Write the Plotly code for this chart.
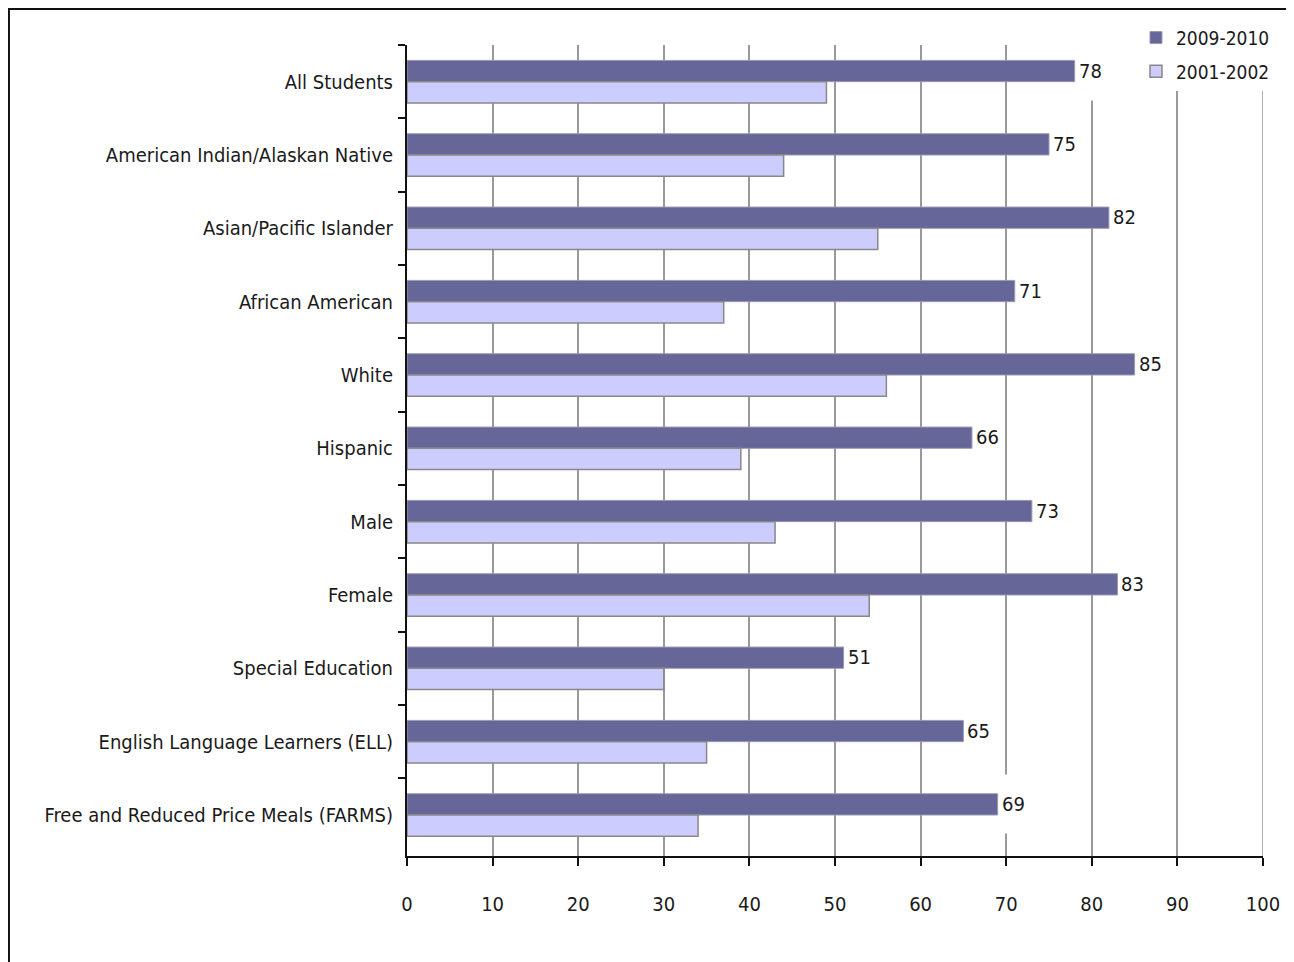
import plotly.graph_objects as go

categories = [
    "All Students",
    "American Indian/Alaskan Native",
    "Asian/Pacific Islander",
    "African American",
    "White",
    "Hispanic",
    "Male",
    "Female",
    "Special Education",
    "English Language Learners (ELL)",
    "Free and Reduced Price Meals (FARMS)",
]
values_2009_2010 = [78, 75, 82, 71, 85, 66, 73, 83, 51, 65, 69]
values_2001_2002 = [49, 44, 55, 37, 56, 39, 43, 54, 30, 35, 34]
series_names = ["2009-2010", "2001-2002"]
x_ticks = [0, 10, 20, 30, 40, 50, 60, 70, 80, 90, 100]

FONT = "Liberation Sans Narrow, DejaVu Sans Condensed, Arial Narrow, sans-serif"
DARK = "#666699"
LIGHT = "#CCCCFF"

fig = go.Figure()
fig.add_trace(go.Bar(
    y=categories, x=values_2009_2010, name=series_names[0], orientation="h",
    marker=dict(color=DARK, line=dict(color="#9a9ab4", width=1)),
    legendgroup="a",
))
fig.add_trace(go.Bar(
    y=categories, x=values_2001_2002, name=series_names[1], orientation="h",
    marker=dict(color=LIGHT, line=dict(color="#888888", width=1.5)),
    legendgroup="b",
))

for c, v in zip(categories, values_2009_2010):
    fig.add_annotation(
        x=v, y=c, xref="x", yref="y", text=str(v), showarrow=False,
        xanchor="left", yanchor="middle", xshift=3, yshift=11,
        width=26, height=58, align="left", valign="middle",
        bgcolor="white", borderpad=0,
        font=dict(family=FONT, size=20, color="#1a1a1a"),
    )

# gridline at the right edge of the value axis
fig.add_shape(type="line", xref="x", yref="paper",
              x0=x_ticks[-1], x1=x_ticks[-1], y0=0, y1=1,
              line=dict(color="#999999", width=1.5), layer="below")

# outer frame
fig.add_shape(type="rect", xref="paper", yref="paper",
              x0=-0.465, x1=1.06, y0=-0.2, y1=1.0444,
              line=dict(color="#111111", width=2), fillcolor="rgba(0,0,0,0)",
              layer="below")

fig.update_layout(
    width=1294, height=962,
    margin=dict(l=399, r=39, t=37, b=114, pad=0, autoexpand=False),
    paper_bgcolor="white", plot_bgcolor="white",
    barmode="group", bargap=0.42, bargroupgap=0,
    font=dict(family=FONT, size=20, color="#1a1a1a"),
    showlegend=True,
    legend=dict(
        x=1.014, y=1.0324, xanchor="right", yanchor="top",
        xref="paper", yref="paper",
        bgcolor="white", borderwidth=0,
        font=dict(family=FONT, size=19, color="#1a1a1a"),
        traceorder="grouped", tracegroupgap=6,
        itemwidth=30,
    ),
    xaxis=dict(
        range=[0, 100], tickvals=x_ticks, ticktext=[str(t) for t in x_ticks],
        showgrid=True, gridcolor="#999999", gridwidth=1.5,
        showline=True, linecolor="#111111", linewidth=2,
        ticks="outside", ticklen=8, tickwidth=1.5, tickcolor="#111111",
        ticklabelstandoff=21, zeroline=False,
        tickfont=dict(family=FONT, size=20, color="#1a1a1a"),
    ),
    yaxis=dict(
        autorange="reversed", type="category",
        showgrid=False, showline=True, linecolor="#111111", linewidth=2,
        ticks="outside", ticklen=7, tickwidth=1.5, tickcolor="#111111",
        tickson="boundaries", ticklabelstandoff=8,
        tickfont=dict(family=FONT, size=20, color="#1a1a1a"),
    ),
)

fig.write_html("out.html")
